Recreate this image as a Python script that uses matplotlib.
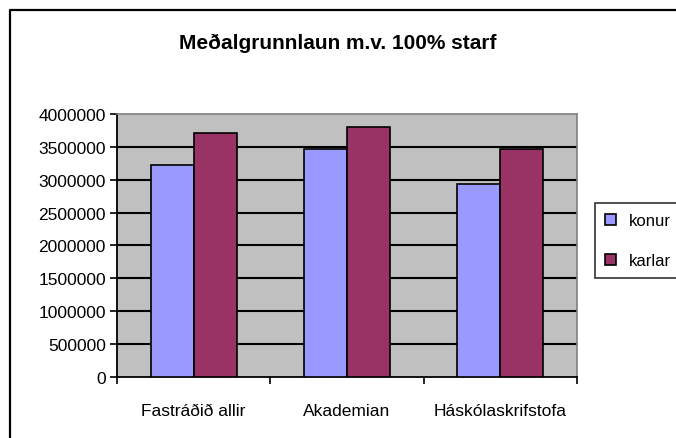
import numpy as np
import matplotlib as mpl
mpl.use("Agg")
import matplotlib.pyplot as plt
from matplotlib.lines import Line2D

categories = ["Fastráðið allir", "Akademian", "Háskólaskrifstofa"]
konur = [3224000, 3468000, 2930000]
karlar = [3711000, 3797000, 3468000]
series_names = ["konur", "karlar"]
yticks = [0, 500000, 1000000, 1500000, 2000000, 2500000, 3000000, 3500000, 4000000]

plt.rcParams['font.family'] = ['Liberation Sans', 'DejaVu Sans']

fig = plt.figure(figsize=(6.76, 4.39), dpi=100)
# chart border (only top and left fall inside the picture)
fig.lines.append(Line2D([0.0148, 0.0148, 1.0], [0.0, 0.975, 0.975], transform=fig.transFigure,
                        color='black', linewidth=1.6))

ax = fig.add_axes([0.173, 0.139, 0.6805, 0.599])
ax.set_facecolor('#c0c0c0')

x = np.arange(len(categories))
w = 0.28
ax.bar(x - w / 2, konur, w, color='#9999ff', edgecolor='black', linewidth=1.2,
       label=series_names[0], zorder=3)
ax.bar(x + w / 2, karlar, w, color='#993366', edgecolor='black', linewidth=1.2,
       label=series_names[1], zorder=3)

ax.set_xlim(-0.5, len(categories) - 0.5)
ax.set_ylim(0, 4000000)
ax.set_yticks(yticks)
ax.set_yticklabels([str(v) for v in yticks], fontsize=12.5)
for v in yticks[1:-1]:
    ax.axhline(v, color='black', linewidth=1.5, zorder=1)

ax.set_xticks(np.arange(len(categories) + 1) - 0.5)
ax.set_xticklabels([])
ax.set_xticks(x, minor=True)
ax.set_xticklabels(categories, minor=True, fontsize=12.5)
ax.tick_params(axis='x', which='minor', length=0, pad=19)
ax.tick_params(axis='x', which='major', length=5, width=1.2, direction='out')
ax.tick_params(axis='y', length=5, width=1.2, direction='out', pad=3)

ax.spines['left'].set_color('black')
ax.spines['left'].set_linewidth(1.3)
ax.spines['bottom'].set_color('black')
ax.spines['bottom'].set_linewidth(1.3)
ax.spines['top'].set_color('#808080')
ax.spines['right'].set_color('#808080')
ax.spines['top'].set_linewidth(1.2)
ax.spines['right'].set_linewidth(1.2)

fig.text(0.5, 0.902, "Meðalgrunnlaun m.v. 100% starf", ha='center', va='center',
         fontsize=15, fontweight='bold')

leg = ax.legend(loc='upper left', bbox_to_anchor=(595 / 676, 1 - 204 / 439, 120 / 676, 0),
                bbox_transform=fig.transFigure, mode='expand',
                frameon=True, fancybox=False, edgecolor='black', fontsize=12,
                handlelength=0.65, handleheight=0.65, handletextpad=0.8,
                borderpad=0.6, labelspacing=1.5, borderaxespad=0)
leg.get_frame().set_linewidth(1.2)

fig.savefig("out.png", dpi=100)
